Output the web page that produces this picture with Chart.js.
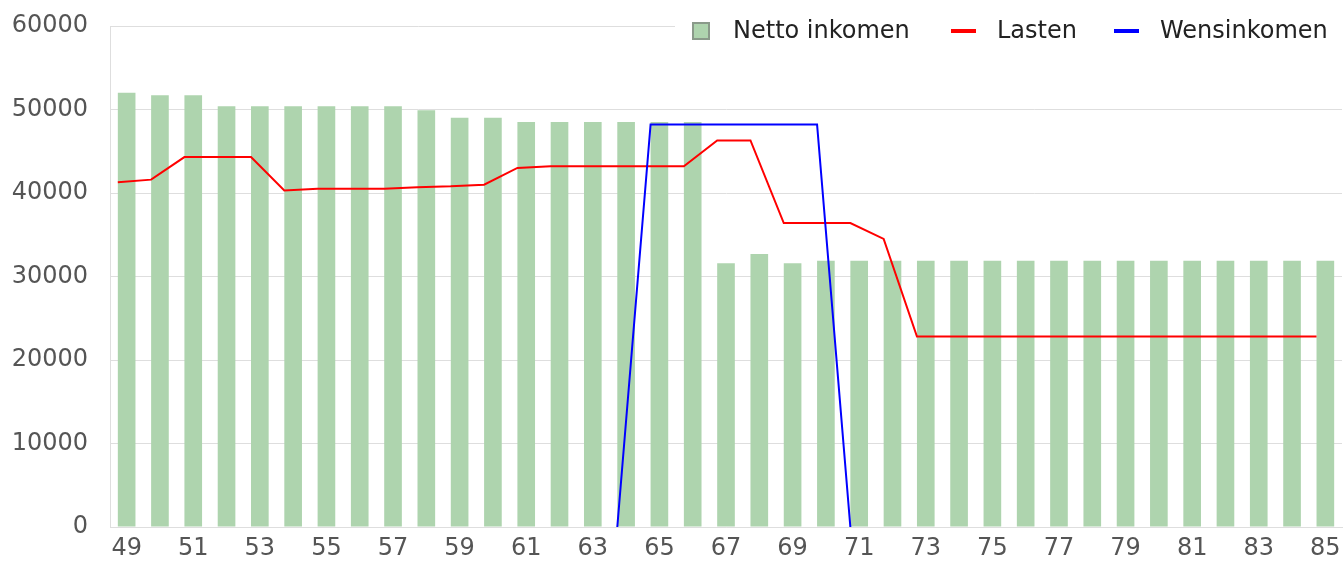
<!DOCTYPE html>
<html>
<head>
<meta charset="utf-8">
<script src="https://cdn.jsdelivr.net/npm/chart.js@4"></script>
<style>
  body { margin: 0; background: #fff; }
  #chart { display: block; }
</style>
</head>
<body>
<canvas id="chart" width="1343" height="567"></canvas>
<script>
// Leeftijden (x-as)
const ages = [49, 50, 51, 52, 53, 54, 55, 56, 57, 58, 59, 60, 61, 62, 63, 64, 65, 66, 67,
              68, 69, 70, 71, 72, 73, 74, 75, 76, 77, 78, 79, 80, 81, 82, 83, 84, 85];

// Netto inkomen (staven)
const nettoInkomen = [52000, 51700, 51700, 50400, 50400, 50400, 50400, 50400, 50400, 49900,
                      49000, 49000, 48500, 48500, 48500, 48500, 48500, 48500, 31600, 32700,
                      31600, 31900, 31900, 31900, 31900, 31900, 31900, 31900, 31900, 31900,
                      31900, 31900, 31900, 31900, 31900, 31900, 31900];

// Lasten (rode lijn)
const lasten = [41300, 41600, 44300, 44300, 44300, 40300, 40500, 40500, 40500, 40700,
                40800, 41000, 43000, 43200, 43200, 43200, 43200, 43200, 46300, 46300,
                36400, 36400, 36400, 34500, 22800, 22800, 22800, 22800, 22800, 22800,
                22800, 22800, 22800, 22800, 22800, 22800, 22800];

// Wensinkomen (blauwe lijn), alleen 64 t/m 71
const wensinkomen = [null, null, null, null, null, null, null, null, null, null,
                     null, null, null, null, null, 0, 48200, 48200, 48200, 48200,
                     48200, 48200, 0, null, null, null, null, null, null, null,
                     null, null, null, null, null, null, null];

const yTicks = [0, 10000, 20000, 30000, 40000, 50000, 60000];

const FONT = '"DejaVu Sans", sans-serif';
const GRID = '#dedede';

// lines sit on the left edge of each bar, so they use a hidden linear axis
const lineShift = -0.265;
function linePoints(values) {
    return values.map((v, i) => ({ x: i + lineShift, y: v }));
}

// legend drawn over the top right of the plot, with white background
// (positions are offsets from the right edge of the plot)
const topLegend = {
    id: 'topLegend',
    afterDraw(chart) {
        const ctx = chart.ctx;
        const right = chart.chartArea.right;
        const items = [
            { text: 'Netto inkomen', kind: 'box', mark: 650, label: 609, fill: '#aed4ae', stroke: '#8a9a8a' },
            { text: 'Lasten', kind: 'line', mark: 391, label: 345, stroke: '#ff0000' },
            { text: 'Wensinkomen', kind: 'line', mark: 228, label: 182, stroke: '#0000ff' }
        ];
        const cy = 31;
        ctx.save();
        ctx.fillStyle = '#fff';
        ctx.fillRect(right - 667, 12, chart.width - right + 667, 38);
        ctx.font = '24px ' + FONT;
        ctx.textBaseline = 'middle';
        items.forEach(it => {
            const mx = right - it.mark;
            if (it.kind === 'box') {
                ctx.fillStyle = it.fill;
                ctx.strokeStyle = it.stroke;
                ctx.lineWidth = 2;
                ctx.fillRect(mx, cy - 9, 18, 18);
                ctx.strokeRect(mx + 1, cy - 8, 16, 16);
            } else {
                ctx.strokeStyle = it.stroke;
                ctx.lineWidth = 4;
                ctx.beginPath();
                ctx.moveTo(mx, cy);
                ctx.lineTo(mx + 25, cy);
                ctx.stroke();
            }
            ctx.fillStyle = '#222';
            ctx.fillText(it.text, right - it.label, cy + 1);
        });
        ctx.restore();
    }
};

new Chart(document.getElementById('chart').getContext('2d'), {
    data: {
        labels: ages,
        datasets: [
            {
                type: 'bar',
                label: 'Netto inkomen',
                data: nettoInkomen,
                backgroundColor: '#aed4ae',
                borderWidth: 0,
                grouped: false,
                barPercentage: 0.53,
                categoryPercentage: 1,
                xAxisID: 'x',
                order: 3
            },
            {
                type: 'line',
                label: 'Lasten',
                data: linePoints(lasten),
                borderColor: '#ff0000',
                borderWidth: 2,
                pointRadius: 0,
                tension: 0,
                fill: false,
                xAxisID: 'xl',
                order: 2
            },
            {
                type: 'line',
                label: 'Wensinkomen',
                data: linePoints(wensinkomen),
                borderColor: '#0000ff',
                borderWidth: 2,
                pointRadius: 0,
                tension: 0,
                fill: false,
                spanGaps: false,
                xAxisID: 'xl',
                order: 1
            }
        ]
    },
    options: {
        responsive: false,
        animation: false,
        layout: { autoPadding: false, padding: { top: 26, left: 12, right: 1, bottom: 0 } },
        plugins: {
            legend: { display: false },
            tooltip: { enabled: false }
        },
        scales: {
            x: {
                type: 'category',
                offset: true,
                grid: {
                    offset: true,
                    drawTicks: false,
                    color: ctx => ctx.index === ages.length ? GRID : 'transparent'
                },
                border: { color: GRID },
                afterFit: axis => {
                    axis.height = 40;
                    axis.paddingLeft = 0;
                    axis.paddingRight = 0;
                },
                ticks: {
                    autoSkip: false,
                    maxRotation: 0,
                    padding: 7,
                    color: '#555',
                    font: { family: FONT, size: 24 },
                    callback: function(value, index) {
                        return index % 2 === 0 ? String(this.getLabelForValue(value)) : '';
                    }
                }
            },
            xl: {
                type: 'linear',
                display: false,
                min: -0.5,
                max: ages.length - 0.5
            },
            y: {
                min: 0,
                max: 60000,
                afterBuildTicks: axis => { axis.ticks = yTicks.map(v => ({ value: v })); },
                afterFit: axis => {
                    axis.width = 98;
                    axis.paddingTop = 0;
                    axis.paddingBottom = 0;
                },
                grid: { color: GRID, drawTicks: false },
                border: { color: GRID },
                ticks: {
                    padding: 22,
                    color: '#555',
                    font: { family: FONT, size: 24 },
                    callback: v => String(v)
                }
            }
        }
    },
    plugins: [topLegend]
});
</script>
</body>
</html>
